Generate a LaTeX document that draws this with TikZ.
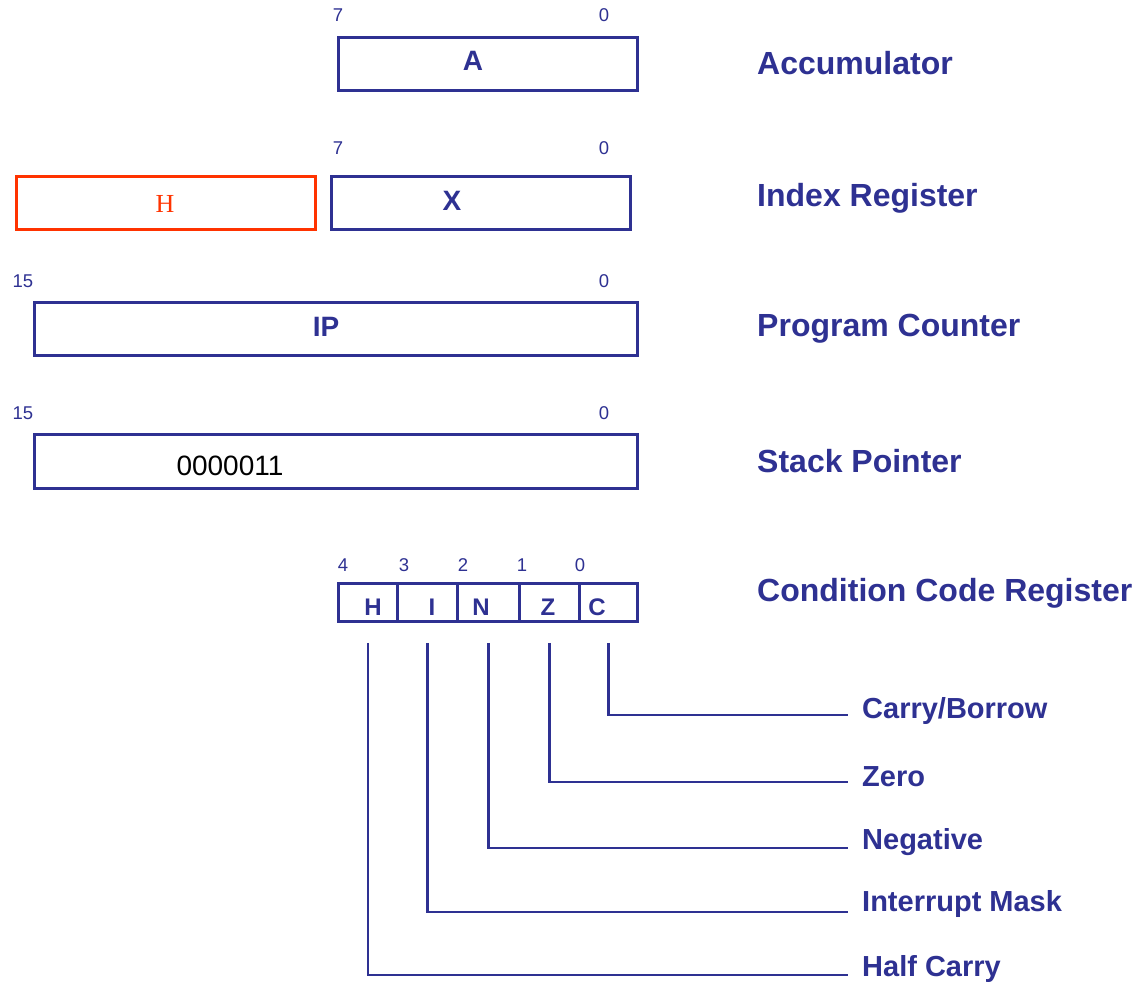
\documentclass[tikz,border=0pt]{standalone}
\usepackage{fontspec}
\setmainfont{Liberation Sans}
\newfontfamily\seriffont{Liberation Serif}
\definecolor{regblue}{RGB}{46,49,146}
\definecolor{regred}{RGB}{255,51,0}
\tikzset{
  regbox/.style={draw=regblue, line width=2.8pt, anchor=north west, inner sep=0pt},
  redbox/.style={draw=regred, line width=3pt, anchor=north west, inner sep=0pt},
  bitnum/.style={text=regblue, font=\fontsize{18.5}{18.5}\selectfont, inner sep=0pt},
  reglbl/.style={text=regblue, font=\bfseries\fontsize{28}{28}\selectfont, inner sep=0pt},
  ccrlbl/.style={text=regblue, font=\bfseries\fontsize{24}{24}\selectfont, inner sep=0pt},
  namelbl/.style={text=regblue, font=\bfseries\fontsize{32}{32}\selectfont, anchor=west, inner sep=0pt},
  flaglbl/.style={text=regblue, font=\bfseries\fontsize{29}{29}\selectfont, anchor=west, inner xsep=14pt, inner ysep=0pt},
  flagline/.style={draw=regblue, line width=2.6pt},
}
\begin{document}
\begin{tikzpicture}[x=1pt,y=-1pt]
\useasboundingbox (0,0) rectangle (1140,985);
% Accumulator
\node[regbox, minimum width=299pt, minimum height=53pt] (boxA) at (337,36) {};
\node[reglbl] (tA) at (473,61) {A};
\node[bitnum] (a7) at (338,15) {7};
\node[bitnum] (a0) at (604,15) {0};
\node[namelbl] (nA) at (757,63) {Accumulator};
% Index register
\node[redbox, minimum width=299pt, minimum height=53pt] (boxH) at (15,175) {};
\node[text=regred, font=\seriffont\fontsize{26}{26}\selectfont, inner sep=0pt] (tH) at (165,204) {H};
\node[regbox, minimum width=299pt, minimum height=53pt] (boxX) at (330,175) {};
\node[reglbl] (tX) at (452,201) {X};
\node[bitnum] (x7) at (338,148) {7};
\node[bitnum] (x0) at (604,148) {0};
\node[namelbl] (nX) at (757,198) {Index Register};
% Program counter
\node[regbox, minimum width=603pt, minimum height=53pt] (boxPC) at (33,301) {};
\node[reglbl] (tPC) at (326,327) {IP};
\node[bitnum] (p15) at (23,281) {15};
\node[bitnum] (p0) at (604,281) {0};
\node[namelbl] (nPC) at (757,329) {Program Counter};
% Stack pointer
\node[regbox, minimum width=603pt, minimum height=54pt] (boxSP) at (33,433) {};
\node[text=black, font=\fontsize{28}{28}\selectfont, inner sep=0pt] (tSP) at (230,466) {0000011};
\node[bitnum] (s15) at (23,413) {15};
\node[bitnum] (s0) at (604,413) {0};
\node[namelbl] (nSP) at (757,461) {Stack Pointer};
% CCR
\node[regbox, minimum width=59pt, minimum height=38pt] (cH) at (337,582) {};
\node[regbox, minimum width=60pt, minimum height=38pt] (cI) at (396,582) {};
\node[regbox, minimum width=62pt, minimum height=38pt] (cN) at (456,582) {};
\node[regbox, minimum width=60pt, minimum height=38pt] (cZ) at (518,582) {};
\node[regbox, minimum width=58pt, minimum height=38pt] (cC) at (578,582) {};
\node[ccrlbl] (tcH) at (373,607) {H};
\node[ccrlbl] (tcI) at (432,607) {I};
\node[ccrlbl] (tcN) at (481,607) {N};
\node[ccrlbl] (tcZ) at (548,607) {Z};
\node[ccrlbl] (tcC) at (597,607) {C};
\node[bitnum] (b4) at (343,565) {4};
\node[bitnum] (b3) at (404,565) {3};
\node[bitnum] (b2) at (463,565) {2};
\node[bitnum] (b1) at (522,565) {1};
\node[bitnum] (b0) at (580,565) {0};
\node[namelbl] (nCCR) at (757,593) {Condition Code Register};
% flags
\node[flaglbl] (fC) at (848,711) {Carry/Borrow};
\node[flaglbl] (fZ) at (848,777) {Zero};
\node[flaglbl] (fN) at (848,842) {Negative};
\node[flaglbl] (fI) at (848,904) {Interrupt Mask};
\node[flaglbl] (fH) at (848,969) {Half Carry};
\coordinate (sC) at ([yshift=-20pt]cC.south);
\coordinate (sZ) at ([yshift=-20pt]cZ.south);
\coordinate (sN) at ([yshift=-20pt]cN.south);
\coordinate (sI) at ([yshift=-20pt]cI.south);
\coordinate (sH) at ([yshift=-20pt]cH.south);
\draw[flagline] (sC) |- ([yshift=-4pt]fC.west);
\draw[flagline] (sZ) |- ([yshift=-5pt]fZ.west);
\draw[flagline] (sN) |- ([yshift=-6pt]fN.west);
\draw[flagline] (sI) |- ([yshift=-8pt]fI.west);
\draw[flagline] (sH) |- ([yshift=-6pt]fH.west);
\end{tikzpicture}
\end{document}
